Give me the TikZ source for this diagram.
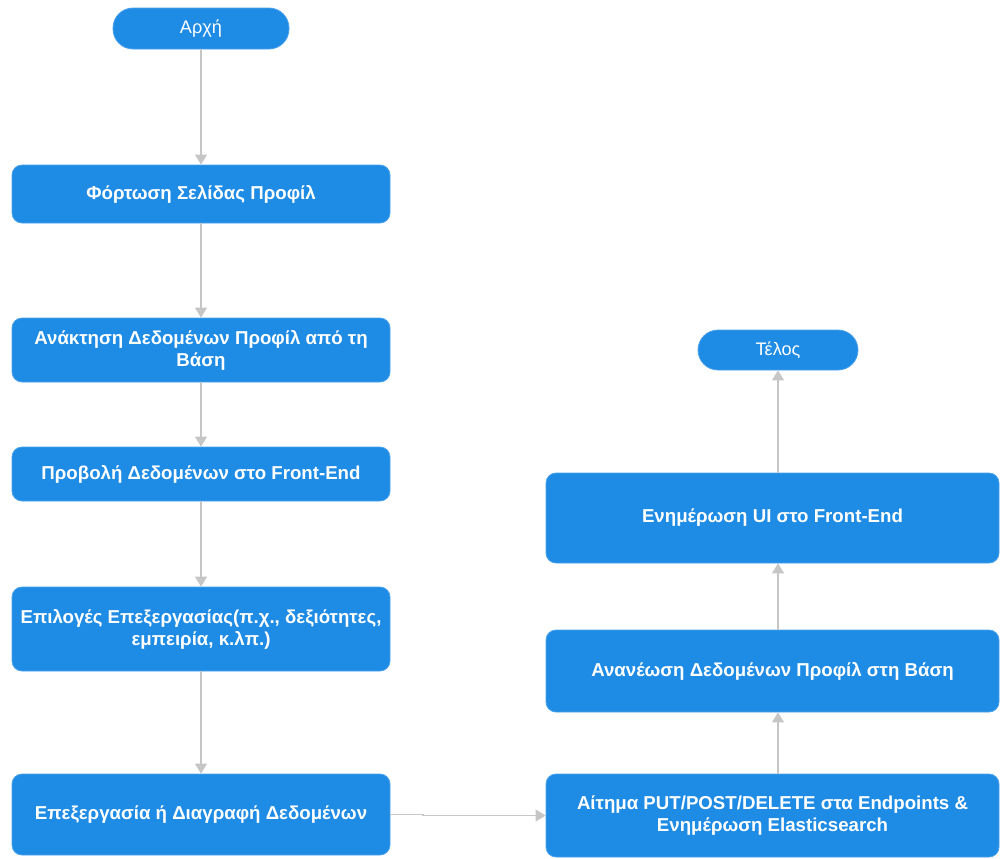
\documentclass[tikz,border=0pt]{standalone}
\usepackage{fontspec}
\setmainfont{Liberation Sans}
\usetikzlibrary{arrows.meta}
\definecolor{boxblue}{RGB}{30,139,229}
\definecolor{boxedge}{RGB}{75,162,236}
\definecolor{linkgray}{RGB}{198,198,198}

\begin{document}
\begin{tikzpicture}[x=0.75pt,y=-0.75pt,
  base/.style={fill=boxblue, draw=boxedge, line width=0.6pt, text=white,
    align=center, inner sep=0pt},
  stepbox/.style={base, rounded corners=7.5pt,
    font=\bfseries\fontsize{14}{16.5}\selectfont},
  wide/.style={stepbox, minimum width=283.5pt},
  wider/.style={stepbox, minimum width=339.75pt},
  pill/.style={base, rounded corners=15pt,
    font=\fontsize{13.6}{16}\selectfont},
  link/.style={draw=linkgray, line width=0.9pt,
    -{Triangle[length=7.5pt,width=9pt,fill=linkgray]}}
]
\useasboundingbox (0,0) rectangle (1000,858);

% left column
\node[pill, minimum width=132pt, minimum height=30.75pt] (start) at (201,28.5) {Αρχή};
\node[wide, minimum height=43.5pt] (load) at (201,194) {Φόρτωση Σελίδας Προφίλ};
\node[wide, minimum height=48pt] (fetch) at (201,350) {Ανάκτηση Δεδομένων Προφίλ από τη\\Βάση};
\node[wide, minimum height=40.5pt] (show) at (201,474) {Προβολή Δεδομένων στο Front-End};
\node[wide, minimum height=63pt] (opts) at (201,629) {Επιλογές Επεξεργασίας(π.χ., δεξιότητες,\\εμπειρία, κ.λπ.)};
\node[wide, minimum height=60.75pt] (edit) at (201,814.5) {Επεξεργασία ή Διαγραφή Δεδομένων};

% right column
\node[wider, minimum height=62.25pt] (req) at (772.5,815.5) {Αίτημα PUT/POST/DELETE στα Endpoints \&\\Ενημέρωση Elasticsearch};
\node[wider, minimum height=61.5pt] (save) at (772.5,671) {Ανανέωση Δεδομένων Προφίλ στη Βάση};
\node[wider, minimum height=67.5pt] (ui) at (772.5,518) {Ενημέρωση UI στο Front-End};
\node[pill, minimum width=120pt, minimum height=30pt] (end) at (778,350) {Τέλος};

% connectors
\draw[link] (start) -- (load);
\draw[link] (load) -- (fetch);
\draw[link] (fetch) -- (show);
\draw[link] (show) -- (opts);
\draw[link] (opts) -- (edit);
\coordinate (jog) at (423,814.5);
\draw[link] (edit.east) -- (jog) |- (req.west);
\draw[link] (req.north -| end) -- (save.south -| end);
\draw[link] (save.north -| end) -- (ui.south -| end);
\draw[link] (ui.north -| end) -- (end);
\end{tikzpicture}
\end{document}
